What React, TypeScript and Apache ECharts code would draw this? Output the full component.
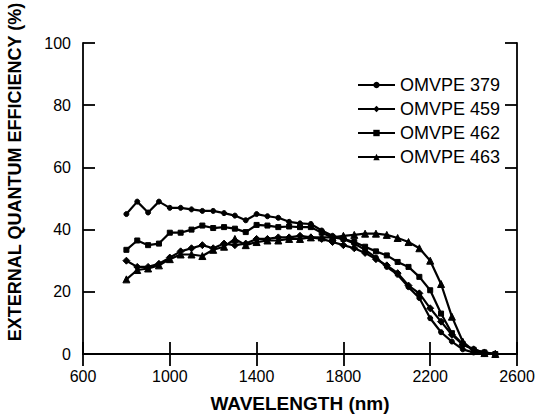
import React, { useEffect, useRef } from "react";
import * as echarts from "echarts";

const wavelengths = [800, 850, 900, 950, 1000, 1050, 1100, 1150, 1200, 1250, 1300, 1350, 1400, 1450, 1500, 1550, 1600, 1650, 1700, 1750, 1800, 1850, 1900, 1950, 2000, 2050, 2100, 2150, 2200, 2250, 2300, 2350, 2400, 2450, 2500];

const omvpe379 = [45, 49, 45.5, 49, 47, 47, 46.5, 46, 46, 45.3, 44.5, 43, 45, 44.3, 43.8, 42.5, 42, 41.8, 39.7, 38, 37, 35.5, 33.5, 31, 28, 25.5, 21.5, 18, 11.5, 7, 4, 1.5, 0.5, 0];
const omvpe459 = [30, 28, 28, 29, 31, 33, 34, 35, 34, 35.5, 35, 35.5, 37, 37, 37.5, 37.5, 38, 37.5, 37, 36, 35, 34, 32.5, 30.5, 28.5, 26, 22, 19.5, 14.7, 10.4, 6.2, 3, 1.5, 0.5, 0];
const omvpe462 = [33.5, 36.5, 35, 35.5, 39, 39, 40, 41.3, 40.5, 40.8, 40.3, 39.2, 41.5, 41.3, 40.8, 41, 40.8, 40.8, 39, 37.5, 37, 36, 34.5, 33, 31.7, 29.6, 28, 24.8, 20.5, 13, 6.7, 3.2, 1.4, 0.5, 0];
const omvpe463 = [24, 27, 27.5, 28.5, 30.5, 32, 32, 31.5, 33.5, 34.5, 37, 35, 36, 36.5, 36.5, 37, 37, 37.5, 37.5, 37.5, 38, 38.3, 38.7, 38.7, 38.3, 37.3, 36, 34, 30, 22.5, 12, 4, 1, 0.3, 0];

const seriesNames = ["OMVPE 379", "OMVPE 459", "OMVPE 462", "OMVPE 463"];
const seriesValues = [omvpe379, omvpe459, omvpe462, omvpe463];
const seriesSymbols = ["circle", "diamond", "rect", "triangle"];
const symbolSizes = [5, 7, 5, 7];

const xTickLabels = ["600", "1000", "1400", "1800", "2200", "2600"];
const yTickLabels = ["0", "20", "40", "60", "80", "100"];

const FONT = "Liberation Sans, Arial, Helvetica, sans-serif";

export default function App() {
  const ref = useRef<HTMLDivElement>(null);
  useEffect(() => {
    if (!ref.current) return;
    const chart = echarts.init(ref.current, null, { renderer: "svg" });
    const axisLine = { show: true, lineStyle: { color: "#000", width: 1.8 } };
    const tick = { show: true, inside: true, length: 12, lineStyle: { color: "#000", width: 1.8 } };
    chart.setOption({
      animation: false,
      backgroundColor: "#fff",
      grid: { left: 83, right: 21, top: 43, bottom: 62 },
      legend: {
        orient: "vertical",
        left: 352,
        top: 71,
        itemWidth: 37,
        itemHeight: 8,
        itemGap: 6,
        textStyle: { color: "#000", fontSize: 18, fontFamily: FONT },
        data: seriesNames.map((n) => ({ name: n })),
      },
      xAxis: [
        {
          type: "value",
          min: 600,
          max: 2600,
          interval: 400,
          position: "bottom",
          axisLine,
          axisTick: tick,
          splitLine: { show: false },
          axisLabel: {
            color: "#000",
            fontSize: 16,
            fontFamily: FONT,
            margin: 14,
            formatter: (v: number) => xTickLabels[Math.round((v - 600) / 400)] ?? "",
          },
          name: "WAVELENGTH (nm)",
          nameLocation: "middle",
          nameGap: 40,
          nameTextStyle: { color: "#000", fontSize: 19, fontWeight: "bold", fontFamily: FONT },
        },
        {
          type: "value",
          min: 600,
          max: 2600,
          interval: 400,
          position: "top",
          axisLine,
          axisTick: tick,
          axisLabel: { show: false },
          splitLine: { show: false },
        },
      ],
      yAxis: [
        {
          type: "value",
          min: 0,
          max: 100,
          interval: 20,
          position: "left",
          axisLine,
          axisTick: tick,
          splitLine: { show: false },
          axisLabel: {
            color: "#000",
            fontSize: 16,
            fontFamily: FONT,
            margin: 12,
            formatter: (v: number) => yTickLabels[Math.round(v / 20)] ?? "",
          },
        },
        {
          type: "value",
          min: 0,
          max: 100,
          interval: 20,
          position: "right",
          axisLine,
          axisTick: tick,
          axisLabel: { show: false },
          splitLine: { show: false },
        },
      ],
      graphic: [
        {
          type: "text",
          x: 15,
          y: 172,
          rotation: Math.PI / 2,
          style: {
            text: "EXTERNAL QUANTUM EFFICIENCY (%)",
            fill: "#000",
            font: "bold 18px " + FONT,
            textAlign: "center",
            textVerticalAlign: "middle",
          },
        },
      ],
      series: seriesNames.map((name, i) => ({
        name,
        type: "line",
        xAxisIndex: 0,
        yAxisIndex: 0,
        symbol: seriesSymbols[i],
        symbolSize: symbolSizes[i],
        showSymbol: true,
        lineStyle: { color: "#000", width: 2.2 },
        itemStyle: { color: "#000", borderColor: "#000" },
        data: seriesValues[i].map((v, j) => [wavelengths[j], v]),
      })),
    });
    return () => chart.dispose();
  }, []);
  return <div ref={ref} style={{ width: 538, height: 418, position: "absolute", left: 0, top: 0 }} />;
}
